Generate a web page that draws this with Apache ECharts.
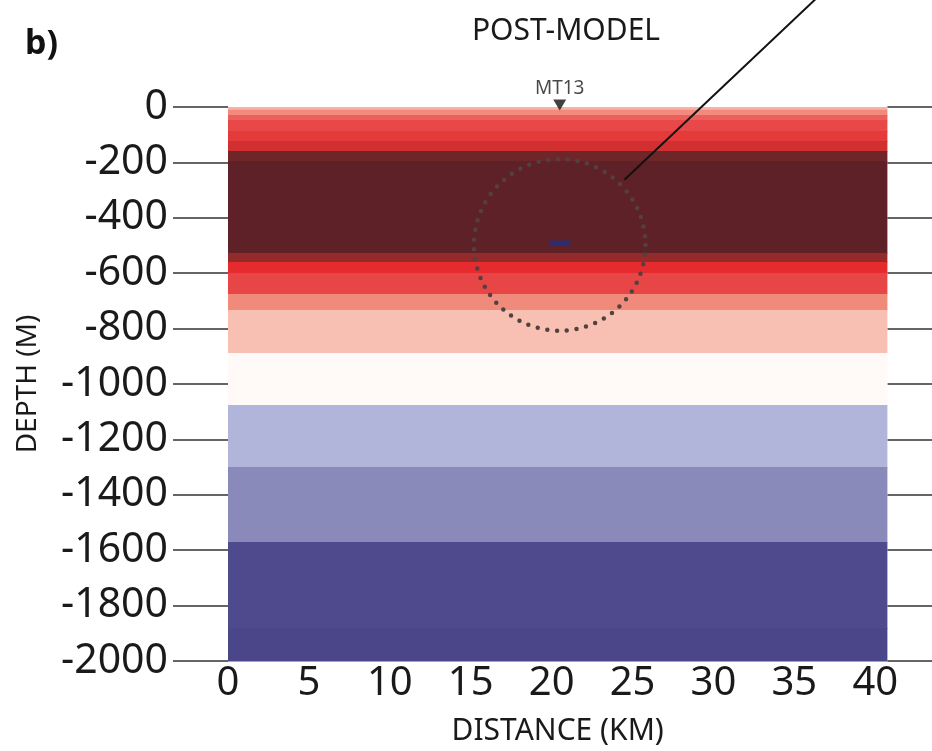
<!DOCTYPE html>
<html>
<head>
<meta charset="utf-8">
<script src="https://cdn.jsdelivr.net/npm/echarts@6/dist/echarts.min.js"></script>
<style>
  html, body { margin: 0; padding: 0; background: #fff; }
  #chart { width: 932px; height: 751px; }
</style>
</head>
<body>
<div id="chart"></div>
<script>
// resistivity layers of the post-model, depth in metres (top -> bottom)
const bandTop    = [0, -10, -29, -47, -87, -123, -159, -195, -527, -560, -599, -675, -733, -888, -1076, -1300, -1570, -1881];
const bandBottom = [-10, -29, -47, -87, -123, -159, -195, -527, -560, -599, -675, -733, -888, -1076, -1300, -1570, -1881, -2000];
const bandColors = ['#f9b2a2', '#f28a7e', '#ec605c', '#e84848', '#e53a3a', '#d23030', '#6e2628', '#5d2127',
  '#942a2a', '#e52b2d', '#e84646', '#f08a7a', '#f8c0b2', '#fffaf8', '#b0b5d9', '#8a8aba', '#4f4a8d', '#4b4589'];

const xMax = 40.75;
const station = [[20.5, 0]];           // MT13
const target = [[20.5, -498, 5.3]];    // centre x, centre depth, radius (km)
const anomaly = [[19.85, -491], [21.15, -491]];
const pointer = [[24.5, -263], [36.5, 400]];

const font = 'Noto Sans';
const chart = echarts.init(document.getElementById('chart'));

const option = {
  animation: false,
  title: [
    { text: 'POST-MODEL', left: 561, top: 11, textAlign: 'center',
      textStyle: { fontFamily: font, fontSize: 30, fontWeight: 'normal', color: '#1a1a1a' } },
    { text: 'b)', left: 20, top: 22,
      textStyle: { fontFamily: font, fontSize: 34, fontWeight: 'bold', color: '#111' } }
  ],
  grid: { left: 228, right: 44.6, top: 107, bottom: 90, outerBoundsMode: 'none', containLabel: false },
  xAxis: {
    type: 'value', min: 0, max: xMax, interval: 5,
    name: 'DISTANCE (KM)', nameLocation: 'middle', nameGap: 55,
    nameTextStyle: { fontFamily: font, fontSize: 30, color: '#1a1a1a' },
    axisLine: { show: false, onZero: false },
    axisTick: { show: false },
    axisLabel: { fontFamily: font, fontSize: 40, color: '#1a1a1a', margin: 3, showMaxLabel: false,
      formatter: v => (v % 5 === 0 ? String(v) : '') },
    splitLine: { show: false }
  },
  yAxis: [
    {
      type: 'value', min: -2000, max: 0, interval: 200,
      name: 'DEPTH (M)', nameLocation: 'middle', nameGap: 186, nameRotate: 90,
      nameTextStyle: { fontFamily: font, fontSize: 28, color: '#1a1a1a' },
      axisLine: { show: false, onZero: false },
      axisTick: { show: true, length: 55, lineStyle: { color: '#333', width: 1.5 } },
      axisLabel: { fontFamily: font, fontSize: 41, color: '#1a1a1a', margin: 60, formatter: v => String(v) },
      splitLine: { show: false }
    },
    {
      type: 'value', min: -2000, max: 0, interval: 200, position: 'right',
      axisLine: { show: false, onZero: false },
      axisTick: { show: true, length: 46, lineStyle: { color: '#333', width: 1.5 } },
      axisLabel: { show: false },
      splitLine: { show: false }
    }
  ],
  series: [
    {
      type: 'custom',
      data: bandTop.map((t, i) => [0, xMax, t, bandBottom[i], i]),
      encode: { x: [0, 1], y: [2, 3] },
      renderItem: (params, api) => {
        const p0 = api.coord([api.value(0), api.value(2)]);
        const p1 = api.coord([api.value(1), api.value(3)]);
        return {
          type: 'rect',
          shape: { x: p0[0], y: p0[1], width: p1[0] - p0[0], height: p1[1] - p0[1] + 0.6 },
          style: { fill: bandColors[api.value(4)] }
        };
      },
      z: 1
    },
    {
      type: 'line',
      data: anomaly,
      symbol: 'none',
      lineStyle: { color: '#2b2d6e', width: 5 },
      z: 3
    },
    {
      type: 'custom',
      data: target,
      renderItem: (params, api) => {
        const c = api.coord([api.value(0), api.value(1)]);
        const r = api.size([api.value(2), 0])[0];
        return {
          type: 'circle',
          shape: { cx: c[0], cy: c[1], r: r },
          style: { fill: 'none', stroke: '#54403f', lineWidth: 4.5, lineDash: [0, 9.8], lineCap: 'round' }
        };
      },
      z: 4
    },
    {
      type: 'line',
      data: pointer,
      symbol: 'none',
      clip: false,
      lineStyle: { color: '#111', width: 2 },
      z: 5
    },
    {
      type: 'scatter',
      data: station,
      symbol: 'triangle',
      symbolRotate: 180,
      symbolSize: [13, 11],
      symbolOffset: [0, -2],
      itemStyle: { color: '#111' },
      label: {
        show: true, position: 'top', distance: 1, formatter: 'MT13',
        fontFamily: font, fontSize: 19, color: '#1a1a1a'
      },
      clip: false,
      z: 6
    }
  ]
};

chart.setOption(option);
</script>
</body>
</html>
